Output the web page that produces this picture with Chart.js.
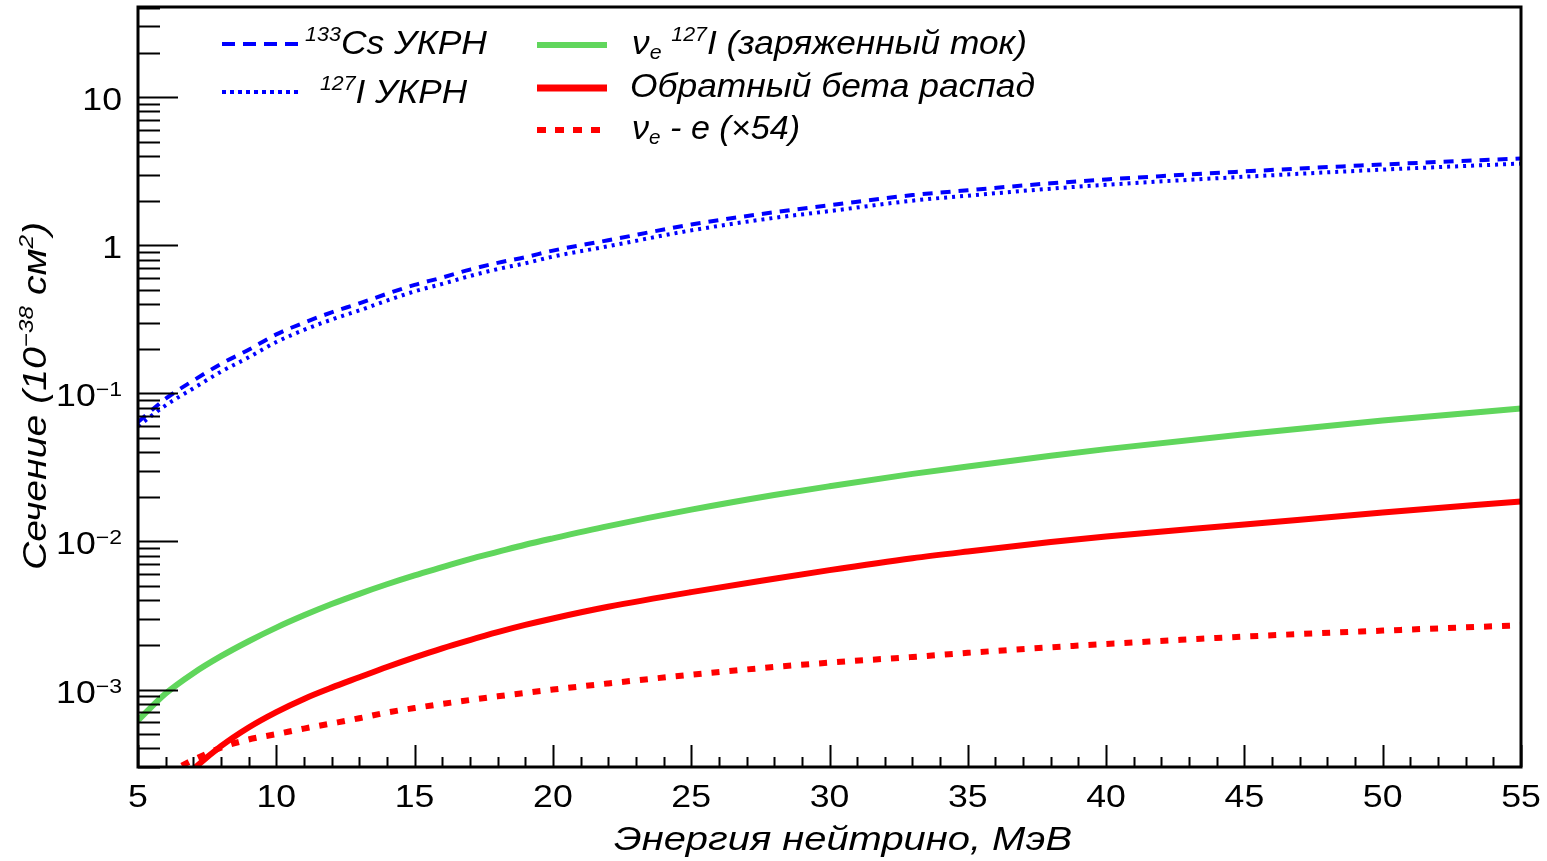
<!DOCTYPE html>
<html>
<head>
<meta charset="utf-8">
<script src="https://cdn.jsdelivr.net/npm/chart.js@4.4.1/dist/chart.umd.min.js"></script>
<style>
  html, body { margin: 0; background: #fff; }
  #wrap { width: 1547px; height: 861px; position: relative; }
</style>
</head>
<body>
<div id="wrap"><canvas id="grafico"></canvas></div>
<script>
// энергия нейтрино, МэВ
const energy = [5, 6, 7, 8, 9, 10, 11, 12, 13, 14, 15, 16, 17, 18, 19, 20, 22, 25, 28, 30, 33, 35, 38, 40, 45, 50, 55];

// сечения, 10^-38 см^2
const cs133 = [0.064, 0.092, 0.122, 0.158, 0.197, 0.25, 0.30, 0.352, 0.405, 0.47, 0.54, 0.605, 0.685, 0.76, 0.83, 0.92, 1.08, 1.38, 1.67, 1.86, 2.18, 2.35, 2.62, 2.78, 3.15, 3.51, 3.85];
const i127 = [0.060, 0.083, 0.108, 0.140, 0.175, 0.222, 0.268, 0.315, 0.363, 0.423, 0.488, 0.548, 0.62, 0.69, 0.755, 0.838, 0.985, 1.26, 1.53, 1.70, 2.0, 2.16, 2.41, 2.56, 2.9, 3.24, 3.56];
const nueI127 = [6.2e-4, 9.4e-4, 1.29e-3, 1.68e-3, 2.12e-3, 2.62e-3, 3.17e-3, 3.78e-3, 4.43e-3, 5.14e-3, 5.9e-3, 6.7e-3, 7.6e-3, 8.5e-3, 9.5e-3, 1.05e-2, 1.27e-2, 1.64e-2, 2.06e-2, 2.36e-2, 2.86e-2, 3.21e-2, 3.79e-2, 4.2e-2, 5.3e-2, 6.55e-2, 7.9e-2];
const ibd = [null, 1.9e-4, 2.9e-4, 4.15e-4, 5.55e-4, 7.05e-4, 8.65e-4, 1.03e-3, 1.21e-3, 1.42e-3, 1.65e-3, 1.9e-3, 2.16e-3, 2.44e-3, 2.73e-3, 3.02e-3, 3.62e-3, 4.55e-3, 5.6e-3, 6.4e-3, 7.7e-3, 8.55e-3, 9.9e-3, 1.08e-2, 1.3e-2, 1.57e-2, 1.86e-2];
const nueE = [null, 2.7e-4, 3.35e-4, 4.05e-4, 4.6e-4, 5.0e-4, 5.45e-4, 5.9e-4, 6.4e-4, 7.0e-4, 7.5e-4, 8.0e-4, 8.5e-4, 9.0e-4, 9.5e-4, 1.0e-3, 1.1e-3, 1.26e-3, 1.42e-3, 1.52e-3, 1.66e-3, 1.77e-3, 1.93e-3, 2.03e-3, 2.28e-3, 2.5e-3, 2.72e-3];

// подписи осей
const xTicks = [5, 10, 15, 20, 25, 30, 35, 40, 45, 50, 55];
const xTickLabels = ["5", "10", "15", "20", "25", "30", "35", "40", "45", "50", "55"];
const yTicks = [1e-3, 1e-2, 1e-1, 1, 10];
const yTickLabels = [["10", "−3"], ["10", "−2"], ["10", "−1"], ["1", ""], ["10", ""]];

const BLUE = "#0000ff";
const GREEN = "#60d65c";
const RED = "#ff0000";
const FAMILY = '"Liberation Sans", Arial, sans-serif';

function pts(ys) {
  return energy.map((e, i) => ({ x: e, y: ys[i] }));
}

function font(size, italic) {
  return (italic ? "italic " : "") + size + "px " + FAMILY;
}

// текст из кусков [строка, размер, сдвиг по y]
function rich(ctx, segs, x0, base, opt) {
  ctx.save();
  let w = 0;
  segs.forEach(s => { ctx.font = font(s[1], opt.italic); w += ctx.measureText(s[0]).width; });
  let sx = opt.sx || 1;
  if (opt.width) sx = opt.width / w;
  let start = x0;
  if (opt.align === "right") start = x0 - w * sx;
  if (opt.align === "center") start = x0 - w * sx / 2;
  ctx.translate(start, base);
  ctx.scale(sx, 1);
  ctx.textBaseline = "alphabetic";
  ctx.textAlign = "left";
  ctx.fillStyle = "#000";
  let x = 0;
  segs.forEach(s => {
    ctx.font = font(s[1], opt.italic);
    ctx.fillText(s[0], x, s[2]);
    x += ctx.measureText(s[0]).width;
  });
  ctx.restore();
}

function sample(ctx, x0, x1, y, color, lw, dash) {
  ctx.save();
  ctx.strokeStyle = color;
  ctx.lineWidth = lw;
  ctx.setLineDash(dash);
  ctx.beginPath();
  ctx.moveTo(x0, y);
  ctx.lineTo(x1, y);
  ctx.stroke();
  ctx.restore();
}

const rootStyle = {
  id: "rootStyle",
  afterDraw(chart) {
    const ctx = chart.ctx;
    const a = chart.chartArea;
    const xs = chart.scales.x;
    const ys = chart.scales.y;

    // рамка
    ctx.save();
    ctx.strokeStyle = "#000";
    ctx.lineWidth = 3;
    ctx.strokeRect(a.left, a.top, a.right - a.left, a.bottom - a.top);

    // деления оси Y
    ctx.lineWidth = 2;
    ctx.beginPath();
    for (let k = -4; k <= 1; k++) {
      for (let m = 1; m <= 9; m++) {
        const v = m * Math.pow(10, k);
        if (v < ys.min || v > ys.max) continue;
        const y = Math.round(ys.getPixelForValue(v)) + 0.5;
        ctx.moveTo(a.left, y);
        ctx.lineTo(a.left + (m === 1 ? 40 : 22), y);
      }
    }
    // деления оси X
    for (let e = 5; e <= 55; e++) {
      const x = Math.round(xs.getPixelForValue(e)) + 0.5;
      ctx.moveTo(x, a.bottom);
      ctx.lineTo(x, a.bottom - (e % 5 === 0 ? 22 : 10));
    }
    ctx.stroke();
    ctx.restore();

    // подписи делений
    xTicks.forEach((v, i) => {
      rich(ctx, [[xTickLabels[i], 31, 0]], xs.getPixelForValue(v), 807, { align: "center", sx: 1.15 });
    });
    yTicks.forEach((v, i) => {
      const y = ys.getPixelForValue(v);
      const lab = yTickLabels[i];
      const segs = [[lab[0], 31, 0]];
      if (lab[1]) segs.push([lab[1], 20, -10]);
      rich(ctx, segs, 122, y + 13, { align: "right", sx: 1.15 });
    });

    // названия осей
    rich(ctx, [["Энергия нейтрино, МэВ", 34, 0]], 614, 850, { italic: true, width: 458 });
    ctx.save();
    ctx.translate(0, 570);
    ctx.rotate(-Math.PI / 2);
    rich(ctx, [["Сечение (10", 34, 0], ["−38", 21, -13], [" см", 34, 0], ["2", 21, -13], [")", 34, 0]],
      0, 46, { italic: true, width: 348 });
    ctx.restore();

    // легенда
    sample(ctx, 222, 302, 44, BLUE, 4, [13, 8]);
    rich(ctx, [["133", 20, -13], ["Cs УКРН", 33, 0]], 305, 54, { italic: true, width: 182 });
    sample(ctx, 222, 302, 92, BLUE, 4, [4, 4]);
    rich(ctx, [["127", 20, -13], ["I УКРН", 33, 0]], 320, 103, { italic: true, width: 147 });
    sample(ctx, 537, 607, 45, GREEN, 6, []);
    rich(ctx, [["ν", 33, 0], ["e", 20, 5], [" ", 33, 0], ["127", 20, -13], ["I (заряженный ток)", 33, 0]],
      632, 54, { italic: true, width: 395 });
    sample(ctx, 537, 607, 88, RED, 7, []);
    rich(ctx, [["Обратный бета распад", 33, 0]], 630, 97, { italic: true, width: 405 });
    sample(ctx, 537, 605, 130, RED, 6, [9, 9]);
    rich(ctx, [["ν", 33, 0], ["e", 20, 5], [" - e (×54)", 33, 0]], 632, 139, { italic: true, width: 168 });
  }
};

const ctx = document.getElementById("grafico").getContext("2d");

new Chart(ctx, {
  type: "line",
  data: {
    datasets: [
      { label: "133Cs УКРН", data: pts(cs133), borderColor: BLUE, borderWidth: 4, borderDash: [10, 8], clip: 0 },
      { label: "127I УКРН", data: pts(i127), borderColor: BLUE, borderWidth: 4, borderDash: [3, 5], clip: 0 },
      { label: "νe 127I (заряженный ток)", data: pts(nueI127), borderColor: GREEN, borderWidth: 6, clip: 0 },
      { label: "Обратный бета распад", data: pts(ibd), borderColor: RED, borderWidth: 6, clip: 0 },
      { label: "νe - e (×54)", data: pts(nueE), borderColor: RED, borderWidth: 6, borderDash: [8, 10], clip: 0 }
    ]
  },
  options: {
    responsive: true,
    maintainAspectRatio: false,
    animation: false,
    layout: { padding: { left: 138, right: 26, top: 7, bottom: 94 } },
    elements: {
      point: { radius: 0 },
      line: { cubicInterpolationMode: "monotone", borderCapStyle: "butt" }
    },
    plugins: {
      legend: { display: false },
      tooltip: { enabled: false }
    },
    scales: {
      x: { type: "linear", min: 5, max: 55, display: false },
      y: { type: "logarithmic", min: 3.1e-4, max: 40.6, display: false }
    }
  },
  plugins: [rootStyle]
});
</script>
</body>
</html>
